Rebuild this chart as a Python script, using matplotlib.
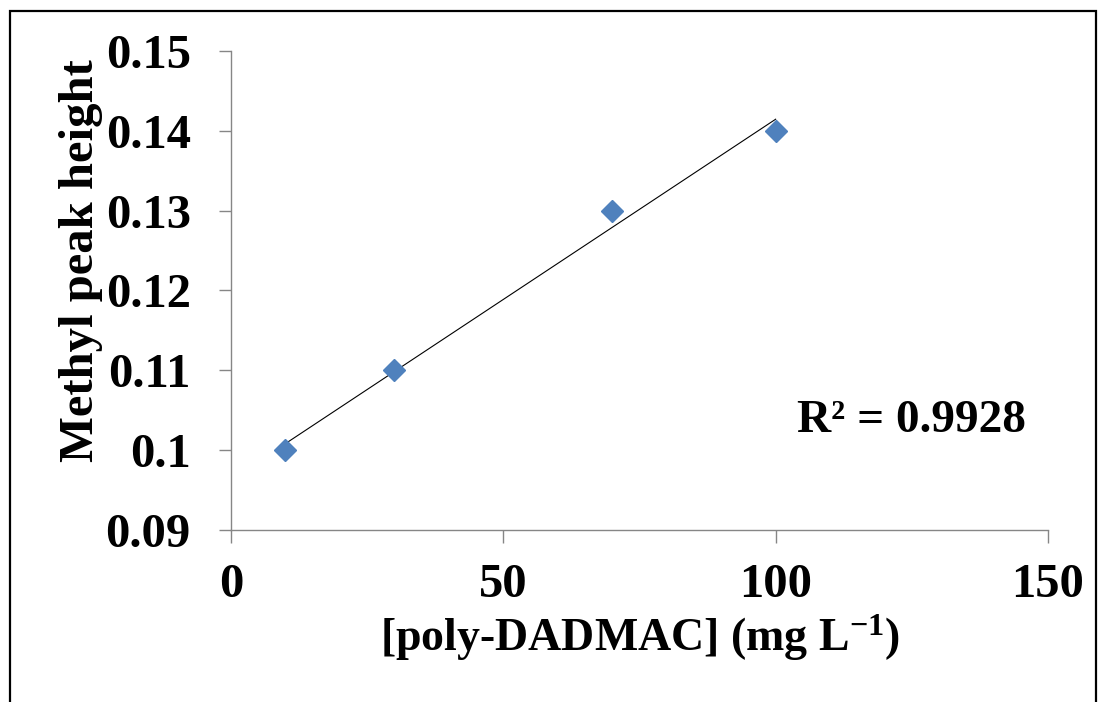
import numpy as np
import matplotlib
matplotlib.use("Agg")
import matplotlib.pyplot as plt
from matplotlib.patches import Rectangle

# poly-DADMAC concentration (mg/L) and methyl peak height
conc = [10, 30, 70, 100]
peak_height = [0.10, 0.11, 0.13, 0.14]

x_ticks = [0, 50, 100, 150]
y_ticks = [0.09, 0.10, 0.11, 0.12, 0.13, 0.14, 0.15]
y_tick_labels = ["0.09", "0.1", "0.11", "0.12", "0.13", "0.14", "0.15"]

plt.rcParams['font.family'] = ['Liberation Serif', 'DejaVu Serif']
plt.rcParams['font.weight'] = 'bold'
plt.rcParams['mathtext.fontset'] = 'custom'
plt.rcParams['mathtext.rm'] = 'Liberation Serif:bold'
plt.rcParams['mathtext.bf'] = 'Liberation Serif:bold'
plt.rcParams['mathtext.default'] = 'bf'

fig = plt.figure(figsize=(11, 7.02), dpi=100)
ax = fig.add_axes([0.21, 0.245, 0.7427, 0.6826])

# linear trendline (Excel style) over the data range
slope, intercept = np.polyfit(conc, peak_height, 1)
fit_x = np.array([min(conc), max(conc)])
ax.plot(fit_x, slope * fit_x + intercept, color='black', lw=0.8, zorder=2)

pred = slope * np.array(conc) + intercept
ss_res = np.sum((np.array(peak_height) - pred) ** 2)
ss_tot = np.sum((np.array(peak_height) - np.mean(peak_height)) ** 2)
r2 = 1 - ss_res / ss_tot

ax.plot(conc, peak_height, linestyle='none', marker='D', markersize=11,
        color='#4F81BD', markeredgecolor='#4F81BD', zorder=3)

ax.text(104, 0.1036, f"R² = {r2:.4f}", fontsize=34, fontweight='bold',
        ha='left', va='center')

ax.set_xlim(0, 150)
ax.set_ylim(0.09, 0.15)
ax.set_xticks(x_ticks)
ax.set_yticks(y_ticks)
ax.set_yticklabels(y_tick_labels)

for side in ['top', 'right']:
    ax.spines[side].set_visible(False)
for side in ['left', 'bottom']:
    ax.spines[side].set_color('#868686')
    ax.spines[side].set_linewidth(1.0)

ax.tick_params(axis='both', direction='out', length=9, width=1.0,
               color='#868686', labelsize=35)
ax.tick_params(axis='y', pad=20)
ax.tick_params(axis='x', pad=15)
for lbl in ax.get_xticklabels() + ax.get_yticklabels():
    lbl.set_fontweight('bold')

ax.set_xlabel('[poly-DADMAC] (mg L$^{-1}$)', fontsize=33,
              fontweight='bold', labelpad=4)
ax.set_ylabel('Methyl peak height', fontsize=35, fontweight='bold')
# the source places the y title a bit above the axis centre
ax.yaxis.set_label_coords(-0.157, 0.5616)

# frame round the chart like the source image
fig.patches.append(Rectangle((10 / 1100, -0.05), 1086 / 1100, 0.05 + (702 - 11) / 702,
                             transform=fig.transFigure, fill=False,
                             edgecolor='black', lw=1.6))

fig.savefig('out.png', dpi=100)
